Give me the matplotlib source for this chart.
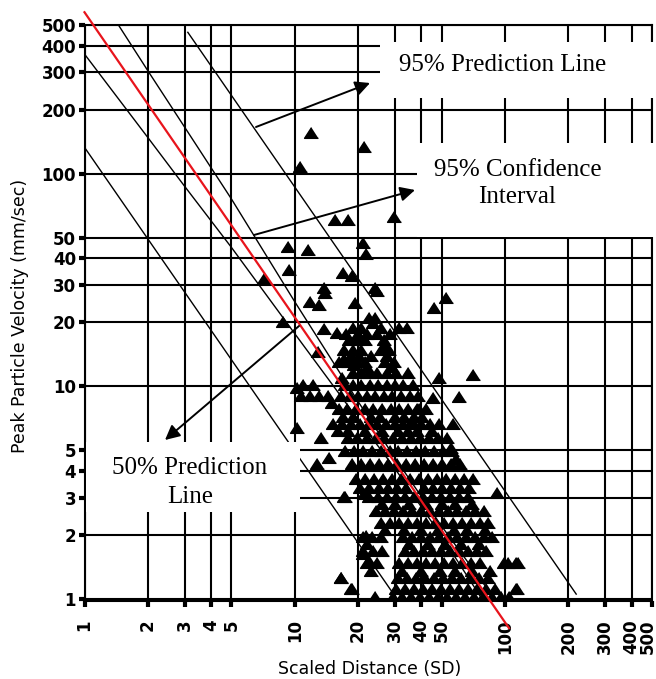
import matplotlib
matplotlib.use('Agg')
import matplotlib.pyplot as plt
import matplotlib.transforms as mtransforms
from matplotlib.patches import Rectangle
from matplotlib.ticker import NullLocator

plt.rcParams['font.family'] = 'DejaVu Sans'

# tick values / labels
tick_vals = [1, 2, 3, 4, 5, 10, 20, 30, 40, 50, 100, 200, 300, 400, 500]
tick_lbls = [str(v) for v in tick_vals]

# regression (red) line end points
fit_sd = [1.0, 104.5]
fit_ppv = [574, 0.73]

# confidence band
ci_up_sd = [1, 2, 3, 5, 10, 20, 30, 50, 100]
ci_up_ppv = [885, 305, 165, 76, 25, 8.5, 4.6, 2.2, 0.86]
ci_lo_sd = [1, 2, 3, 5, 10, 20, 30, 50, 100]
ci_lo_ppv = [365, 148, 87, 45, 17.7, 7.0, 4.1, 1.97, 0.68]

# prediction lines
pred_hi_sd = [3.1, 218]
pred_hi_ppv = [462, 1.056]
pred_lo_sd = [1.0, 33]
pred_lo_ppv = [133, 0.9]

# isolated points (SD, PPV)
sparse_pts = [(11.9, 156), (21.3, 133), (10.6, 108), (15.5, 60.7), (17.9, 60.7),
              (29.6, 62.7), (9.26, 45.3), (11.5, 43.8), (21.1, 47.3), (21.9, 42),
              (9.36, 35.3), (7.12, 32), (16.9, 34.1), (18.7, 33.0), (14.0, 27.5),
              (11.8, 24.9), (13.1, 24.1), (19.3, 24.6), (24.6, 28.1), (13.8, 18.6),
              (15.8, 17.8), (12.9, 14.5), (17.1, 13.5), (19.1, 12.6), (8.77, 20),
              (52.4, 26.0), (45.9, 23.3), (70.4, 11.3), (48.4, 11.0), (60.4, 8.87),
              (45.4, 8.8), (56.5, 6.69), (38.9, 7.8), (55.1, 5.15), (58.4, 4.57),
              (91.6, 3.16), (10.3, 6.4), (10.3, 9.8), (13.3, 5.75), (12.8, 4.33),
              (14.5, 4.6), (16.6, 1.26), (18.6, 1.11), (21.1, 1.63), (17.4, 3.03),
              (21.3, 3.12), (21.9, 1.98), (22.5, 1.51), (103, 1.48), (115, 1.48),
              (114, 1.11), (13.8, 29), (24.0, 29), (23.5, 19.8), (27.0, 15.6),
              (16.8, 11.0), (22.0, 12.3), (29.0, 12.3), (15.0, 8.4), (36.0, 6.9)]

# dense cloud, one row per PPV level
cloud_ppv = [20.9, 18.8, 17.6, 16.5, 14.8, 13.9, 13.0, 11.6, 10.1, 9.06, 7.87, 7.22,
             6.69, 6.2, 5.75, 4.99, 4.33, 3.68, 3.34, 3.03, 2.8, 2.60, 2.28, 2.12,
             1.96, 1.82, 1.68, 1.48, 1.36, 1.26, 1.11, 1.02]
cloud_sd = [
    [22.5, 24.0],
    [18.9, 20.6, 25.7, 31.3, 34.2],
    [17.5, 20.0, 22.0, 24.5, 28.5],
    [18.1, 19.7, 21.5, 26.5],
    [17.1, 18.9, 20.6, 25.7, 28.0],
    [18.5, 20.2, 23.0, 27.5],
    [16.2, 17.9, 19.7, 21.5, 26.8, 29.6],
    [18.9, 20.6, 22.5, 24.6, 27.4, 30.3, 34.5],
    [11.0, 12.2, 17.3, 18.9, 20.6, 22.8, 24.8, 27.4, 29.9, 32.7, 36.5],
    [10.7, 11.8, 13.0, 14.4, 16.6, 18.3, 20.0, 22.0, 24.0, 26.5, 29.0, 32.0, 35.3, 38.5],
    [16.2, 17.7, 19.5, 21.5, 23.5, 25.9, 28.7, 31.3, 34.5, 38.1, 42.1],
    [17.0, 19.0, 23.0, 25.5, 30.0, 33.0, 37.0, 40.5],
    [15.2, 16.7, 18.5, 20.4, 22.5, 24.5, 27.1, 29.9, 32.7, 36.1, 39.8, 43.9, 48.5],
    [16.0, 18.0, 21.5, 26.0, 31.0, 34.5, 38.0, 45.0],
    [17.9, 19.7, 22.0, 24.3, 26.5, 29.3, 32.3, 35.7, 39.4, 43.5, 48.0, 52.9],
    [17.3, 19.1, 21.1, 23.3, 25.7, 28.3, 31.0, 34.2, 37.7, 41.6, 45.9, 50.7, 56.0],
    [18.7, 20.6, 22.8, 25.1, 27.7, 30.6, 33.7, 37.2, 41.1, 45.3, 50.0, 55.2, 61.0],
    [19.5, 21.5, 23.8, 26.2, 28.9, 32.0, 35.3, 38.9, 43.0, 47.4, 52.3, 57.8, 63.8, 70.4],
    [20.4, 22.5, 25.1, 27.7, 30.6, 33.7, 41.1, 45.3, 50.0, 55.2, 61.0, 67.3],
    [17.1, 22.5, 24.8, 27.4, 30.3, 33.4, 36.9, 40.7, 44.9, 49.6, 54.7, 60.4, 66.7],
    [26.0, 30.0, 35.0, 42.0, 50.0, 58.0, 70.0],
    [24.3, 26.8, 29.6, 32.7, 36.1, 39.8, 44.0, 48.5, 53.5, 59.1, 65.2, 72.0, 79.4],
    [25.7, 28.3, 31.3, 34.5, 38.1, 42.1, 46.4, 51.2, 56.6, 62.4, 68.9, 76.0, 83.0],
    [27.0, 33.0, 40.0, 48.0, 57.0, 66.0, 80.0],
    [21.1, 23.3, 25.7, 32.7, 36.1, 39.8, 44.0, 48.5, 53.5, 59.1, 65.2, 72.0, 79.4, 86.7],
    [22.0, 35.0, 43.0, 52.0, 62.0, 75.0],
    [21.1, 23.5, 26.0, 33.4, 36.9, 40.7, 44.9, 49.6, 54.7, 60.4, 66.7, 73.6, 81.2],
    [22.0, 24.6, 31.3, 34.5, 38.1, 42.1, 46.4, 51.2, 56.6, 62.4, 68.9, 76.0, 99.0, 113.0],
    [23.0, 32.5, 40.0, 49.0, 58.0, 70.0, 85.0],
    [16.6, 30.9, 34.2, 37.7, 41.6, 45.9, 50.7, 56.0, 61.7, 68.2, 75.2, 83.0],
    [18.7, 30.3, 33.4, 36.9, 40.7, 44.9, 49.6, 54.7, 60.4, 66.7, 73.6, 81.2, 89.6, 113.0],
    [24.0, 29.3, 32.3, 35.7, 39.4, 43.5, 48.0, 52.9, 58.4, 64.5, 71.2, 78.6, 86.7, 95.7, 105.0],
]

W, H = 656, 679


def fpx(x, y):
    # figure pixel (top-left origin) -> figure fraction
    return (x / W, 1 - y / H)


fig = plt.figure(figsize=(W / 100, H / 100), dpi=100)
ax = fig.add_axes([84.5 / W, 1 - 601 / H, (652 - 84.5) / W, (601 - 25) / H])
ax.set_xscale('log')
ax.set_yscale('log')
ax.set_xlim(1, 500)
ax.set_ylim(0.98, 500)

ax.set_xticks(tick_vals)
ax.set_xticklabels(tick_lbls, rotation=90)
ax.set_yticks(tick_vals)
ax.set_yticklabels(tick_lbls)
ax.xaxis.set_minor_locator(NullLocator())
ax.yaxis.set_minor_locator(NullLocator())
ax.tick_params(axis='both', direction='out', length=4, width=3, labelsize=12, colors='black')
ax.tick_params(axis='x', pad=9)
ax.tick_params(axis='y', pad=2)
for lbl in ax.get_xticklabels() + ax.get_yticklabels():
    lbl.set_fontweight('bold')
# last x label sits right at the image edge
last = ax.get_xticklabels()[-1]
last.set_transform(last.get_transform() +
                   mtransforms.ScaledTranslation(-4 / 100, 0, fig.dpi_scale_trans))
ax.grid(True, color='black', lw=1.5)
for s in ax.spines.values():
    s.set_linewidth(1.5)

# scatter
xs = [p[0] for p in sparse_pts]
ys = [p[1] for p in sparse_pts]
for v, row in zip(cloud_ppv, cloud_sd):
    xs += row
    ys += [v] * len(row)
tri = [(0, 0.85), (-1, -0.7), (1, -0.7)]
ax.plot(xs, ys, ls='none', marker=tri, ms=10, color='black', zorder=3)

# lines
ax.plot(ci_up_sd, ci_up_ppv, color='black', lw=1.0, zorder=2.6)
ax.plot(ci_lo_sd, ci_lo_ppv, color='black', lw=1.0, zorder=2.6)
ax.plot(pred_hi_sd, pred_hi_ppv, color='black', lw=1.0, zorder=2.6)
ax.plot(pred_lo_sd, pred_lo_ppv, color='black', lw=1.0, zorder=2.6)
ax.plot(fit_sd, fit_ppv, color='#e8141c', lw=1.6, zorder=3.5, clip_on=False)

# white label boxes
boxes = [(380, 42, 656, 98), (417, 143, 656, 237), (86, 442, 300, 512)]
for x0, y0, x1, y1 in boxes:
    ax.add_patch(Rectangle(fpx(x0, y1), (x1 - x0) / W, (y1 - y0) / H,
                           transform=fig.transFigure, facecolor='white',
                           edgecolor='none', clip_on=False, zorder=4))

serif = dict(family='Liberation Serif', fontsize=18, ha='center', va='center', zorder=6)
fig.text(*fpx(503, 65), '95% Prediction Line', **serif)
fig.text(*fpx(518, 170), '95% Confidence', **serif)
fig.text(*fpx(517, 197), 'Interval', **serif)
fig.text(*fpx(190, 468), '50% Prediction', **serif)
fig.text(*fpx(190, 497), 'Line', **serif)

arrows = [((256, 127), (370, 83)), ((254, 235), (415, 190)), ((299, 326), (165, 440))]
for tail, head in arrows:
    ax.annotate('', xy=fpx(*head), xytext=fpx(*tail), xycoords='figure fraction',
                textcoords='figure fraction', annotation_clip=False, zorder=6,
                arrowprops=dict(arrowstyle='-|>', color='black', lw=1.4,
                                mutation_scale=22, shrinkA=0, shrinkB=0))

fig.text(*fpx(370, 669), 'Scaled Distance (SD)', fontsize=12.5, ha='center', va='center')
fig.text(*fpx(20, 316), 'Peak Particle Velocity (mm/sec)', fontsize=12.5,
         rotation=90, ha='center', va='center')

fig.savefig('out.png', dpi=100)
